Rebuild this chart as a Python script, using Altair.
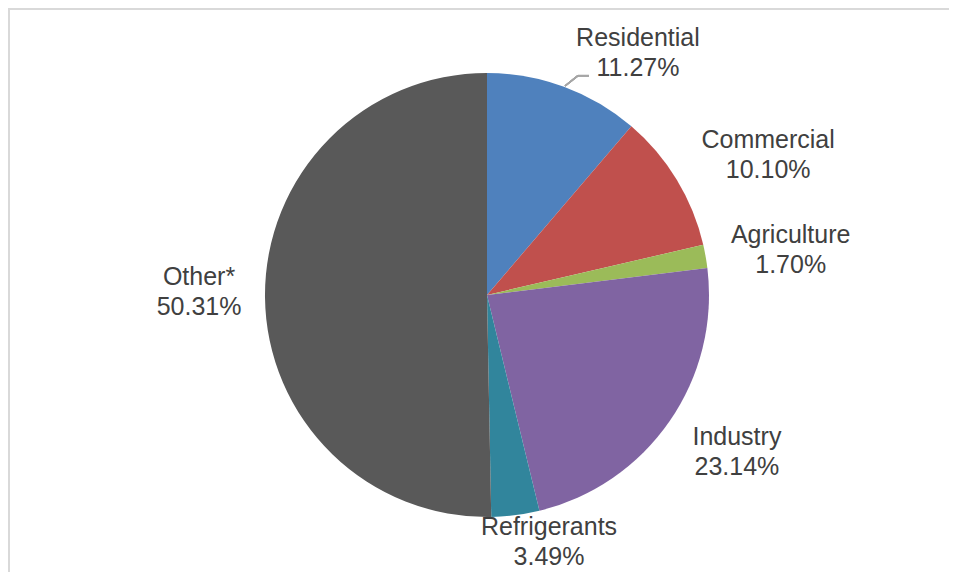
import altair as alt
import pandas as pd

categories = ["Residential", "Commercial", "Agriculture", "Industry", "Refrigerants", "Other*"]
shares = [11.27, 10.10, 1.70, 23.14, 3.49, 50.31]
colors = ["#4F81BD", "#C0504D", "#9BBB59", "#8064A2", "#31859C", "#595959"]

# label placement (angle nudge from slice middle in degrees, distance from centre in px)
label_nudge_deg = [11.7, 4.8, 1.6, -2.6, -6.7, 1.2]
label_radius = [285, 314, 307, 295, 255, 288]

df = pd.DataFrame({
    "category": categories,
    "share": shares,
    "order": list(range(len(categories))),
    "nudge": label_nudge_deg,
    "lr": label_radius,
})

W, H = 941, 564
CX, CY, R = 479, 287, 222
TWO_PI = 6.283185307179586

base = alt.Chart(df)

pie = base.mark_arc(radius=R).encode(
    theta=alt.Theta("share:Q", stack=True),
    color=alt.Color("category:N", scale=alt.Scale(domain=categories, range=colors), legend=None),
    order=alt.Order("order:Q"),
    x=alt.value(CX),
    y=alt.value(CY),
)

labels = base.transform_window(
    cum="sum(share)", sort=[alt.SortField("order")], frame=[None, 0]
).transform_joinaggregate(
    total="sum(share)"
).transform_calculate(
    ang="((datum.cum - datum.share / 2) / datum.total) * 360 + datum.nudge",
    txt="datum.category + '\\n' + format(datum.share, '.2f') + '%'",
).mark_text(
    fontSize=25, font="Liberation Sans", color="#404040", lineBreak="\n",
    align="center", baseline="middle", lineHeight=30, dy=-15,
).encode(
    theta=alt.Theta("ang:Q", scale=alt.Scale(domain=[0, 360], range=[0, TWO_PI]), stack=None),
    radius=alt.Radius("lr:Q", scale=None),
    text="txt:N",
    x=alt.value(CX),
    y=alt.value(CY),
)

leader1 = base.mark_rule(color="#A6A6A6", strokeWidth=1.5).encode(
    x=alt.value(557), y=alt.value(78), x2=alt.value(570), y2=alt.value(67.7)
)
leader2 = base.mark_rule(color="#A6A6A6", strokeWidth=1.5).encode(
    x=alt.value(570), y=alt.value(67.7), x2=alt.value(581), y2=alt.value(67.7)
)

border_top = base.mark_rule(color="#D9D9D9", strokeWidth=2).encode(
    x=alt.value(0), x2=alt.value(W), y=alt.value(1)
)
border_left = base.mark_rule(color="#D9D9D9", strokeWidth=2).encode(
    x=alt.value(1), y=alt.value(0), y2=alt.value(H)
)

chart = alt.layer(border_top, border_left, pie, leader1, leader2, labels).resolve_scale(
    theta="independent", radius="independent"
).properties(
    width=W, height=H, padding=0, autosize=alt.AutoSizeParams(type="none"), background="white"
).configure_view(stroke=None)

chart.save("out.html", embed_options={"renderer": "svg", "actions": False})
